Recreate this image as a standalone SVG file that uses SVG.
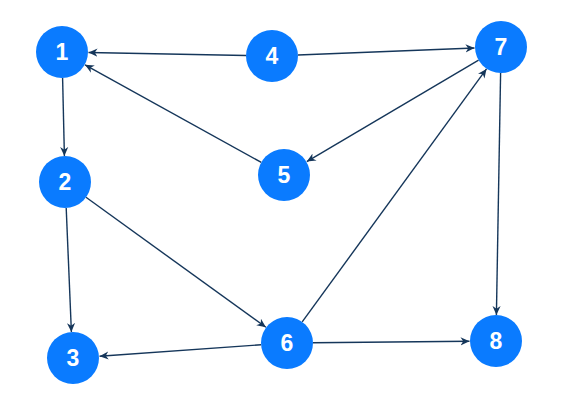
<svg xmlns="http://www.w3.org/2000/svg" width="565" height="411" viewBox="0 0 565 411">
<defs>
<marker id="ah" viewBox="0 0 10 10" refX="10" refY="5" markerWidth="9" markerHeight="9" markerUnits="userSpaceOnUse" orient="auto">
<path d="M0,0.5 L10,5 L0,9.5 L3,5 z" fill="#15365a"/>
</marker>
<style>
.e{stroke:#15365a;stroke-width:1.4;fill:none;marker-end:url(#ah)}
.n{fill:#0a7bff}
.t{fill:#ffffff;font-family:"Liberation Sans",Arial,sans-serif;font-weight:bold;font-size:23px;text-anchor:middle}
</style>
</defs>
<rect width="565" height="411" fill="#ffffff"/>
<g id="edges">
<line class="e" x1="246" y1="55.5" x2="88.5" y2="52.5"/>
<line class="e" x1="298" y1="55" x2="474.5" y2="48"/>
<line class="e" x1="478.6" y1="60.2" x2="306.8" y2="161.6"/>
<line class="e" x1="261.3" y1="162.4" x2="85" y2="64.8"/>
<line class="e" x1="62.6" y1="78" x2="64.4" y2="156"/>
<line class="e" x1="66.2" y1="208" x2="71.4" y2="332"/>
<line class="e" x1="86" y1="197.3" x2="265.9" y2="327.3"/>
<line class="e" x1="261.1" y1="344.8" x2="99.5" y2="356.2"/>
<line class="e" x1="313" y1="342.75" x2="469.5" y2="341.25"/>
<line class="e" x1="302.2" y1="321.9" x2="486.5" y2="68.9"/>
<line class="e" x1="500.6" y1="73" x2="496.4" y2="315"/>
</g>
<g id="node1"><circle class="n" cx="62" cy="52" r="26"/><text class="t" x="62" y="60">1</text></g>
<g id="node2"><circle class="n" cx="65" cy="182" r="26"/><text class="t" x="65" y="190">2</text></g>
<g id="node3"><circle class="n" cx="73" cy="358" r="26"/><text class="t" x="73" y="366">3</text></g>
<g id="node4"><circle class="n" cx="272" cy="56" r="26"/><text class="t" x="272" y="64">4</text></g>
<g id="node5"><circle class="n" cx="284" cy="175" r="26"/><text class="t" x="284" y="183">5</text></g>
<g id="node6"><circle class="n" cx="287" cy="343" r="26"/><text class="t" x="287" y="351">6</text></g>
<g id="node7"><circle class="n" cx="501" cy="47" r="26"/><text class="t" x="501" y="55">7</text></g>
<g id="node8"><circle class="n" cx="496" cy="341" r="26"/><text class="t" x="496" y="349">8</text></g>
</svg>
